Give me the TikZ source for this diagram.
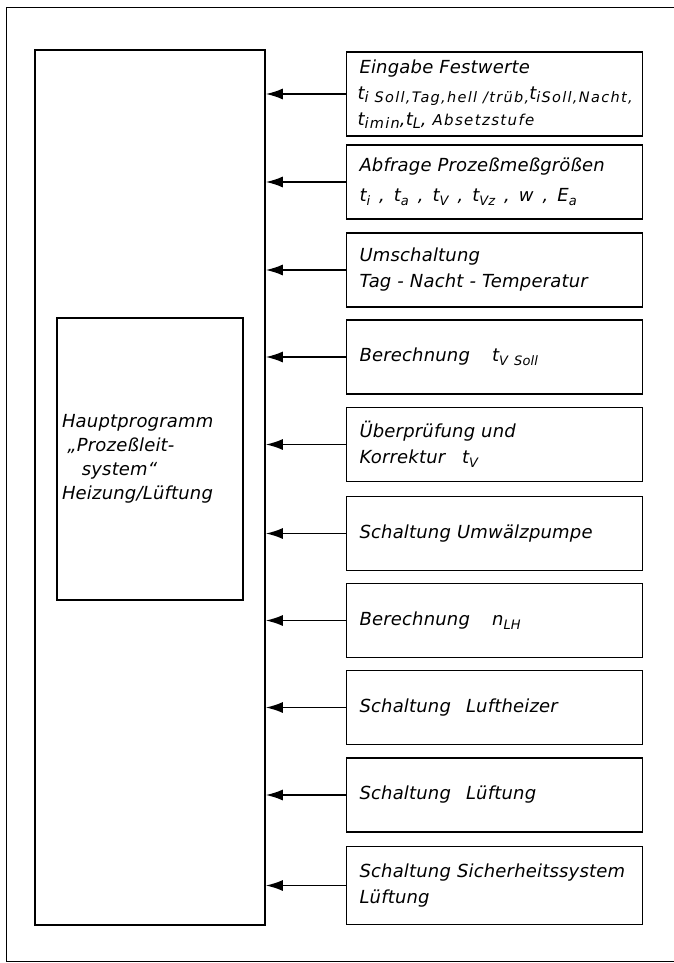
\documentclass[tikz,border=0pt]{standalone}
\usepackage{fontspec}
\usetikzlibrary{arrows.meta}
\newfontfamily\hand{DejaVu Sans Oblique}[LetterSpace=1]
\newfontfamily\handwide{DejaVu Sans Oblique}[LetterSpace=9]
\newcommand\lowtx[1]{\raisebox{-0.45ex}{\fontsize{13}{13}\selectfont#1}}
\newcommand\lowtxb[1]{\raisebox{-0.35ex}{\handwide\fontsize{14.5}{14.5}\selectfont#1}}
\begin{document}
\begin{tikzpicture}[x=1pt,y=-1pt,
  frameline/.style={line width=1pt},
  bigbox/.style={draw,line width=1.6pt,minimum width=230pt,minimum height=875pt,inner sep=0pt},
  hpbox/.style={draw,line width=1.5pt,minimum width=186pt,minimum height=282pt,text width=176pt,inner xsep=5pt,align=left,font={\hand\fontsize{18}{24}\selectfont}},
  stepbox/.style={draw,line width=1.5pt,minimum width=296pt,minimum height=74pt,text width=274pt,inner xsep=11pt,align=left,font={\hand\fontsize{18}{26}\selectfont}},
  arr/.style={line width=1.6pt,-{Latex[length=17pt,width=11pt]}}
]
\useasboundingbox (0,0) rectangle (673,963);
\draw[frameline] (674,8) -- (6,8) -- (6,961) -- (674,961);
\node[bigbox] (main) at (150,487.5) {};
\node[hpbox] (hp) at (150,459) {Hauptprogramm\\ \hspace*{0.3em}„Prozeßleit-\\ \hspace*{1.1em}system“\\ Heizung/Lüftung};

\node[stepbox,minimum height=84pt] (b1) at (494.5,94) {\hspace*{2pt}Eingabe Festwerte\\
{\fontsize{18}{26}\selectfont t\lowtxb{i Soll,Tag,hell /trüb,}t\lowtxb{iSoll,Nacht,}}\\
{\fontsize{18}{26}\selectfont t\lowtxb{imin},t\lowtxb{L}, {\handwide\fontsize{15}{26}\selectfont Absetzstufe}}};
\node[stepbox] (b2) at (494.5,182) {\hspace*{2pt}Abfrage Prozeßmeßgrößen\\[4pt]
\hspace*{2pt}t\lowtx{i}\enspace,\enspace t\lowtx{a}\enspace,\enspace t\lowtx{V}\enspace,\enspace t\lowtx{Vz}\enspace,\enspace w\enspace,\enspace E\lowtx{a}};
\node[stepbox] (b3) at (494.5,270) {\hspace*{2pt}Umschaltung\\ \hspace*{2pt}Tag - Nacht - Temperatur};
\node[stepbox] (b4) at (494.5,357) {\hspace*{2pt}Berechnung\hspace{0.9em} t\lowtx{V Soll}};
\node[stepbox] (b5) at (494.5,444.5) {\hspace*{2pt}Überprüfung und\\ \hspace*{2pt}Korrektur\hspace{0.6em} t\lowtx{V}};
\node[stepbox] (b6) at (494.5,533.5) {\hspace*{2pt}Schaltung Umwälzpumpe};
\node[stepbox] (b7) at (494.5,620.5) {\hspace*{2pt}Berechnung\hspace{0.9em} n\lowtx{LH}};
\node[stepbox] (b8) at (494.5,707.5) {\hspace*{2pt}Schaltung\hspace{0.5em} Luftheizer};
\node[stepbox] (b9) at (494.5,795) {\hspace*{2pt}Schaltung\hspace{0.5em} Lüftung};
\node[stepbox,minimum height=78pt] (b10) at (494.5,885.5) {\hspace*{2pt}Schaltung Sicherheitssystem\\ \hspace*{2pt}Lüftung};

\foreach \b in {b1,b2,b3,b4,b5,b6,b7,b8,b9,b10}
  \draw[arr] (\b.west) -- (\b.west -| main.east);
\end{tikzpicture}
\end{document}
